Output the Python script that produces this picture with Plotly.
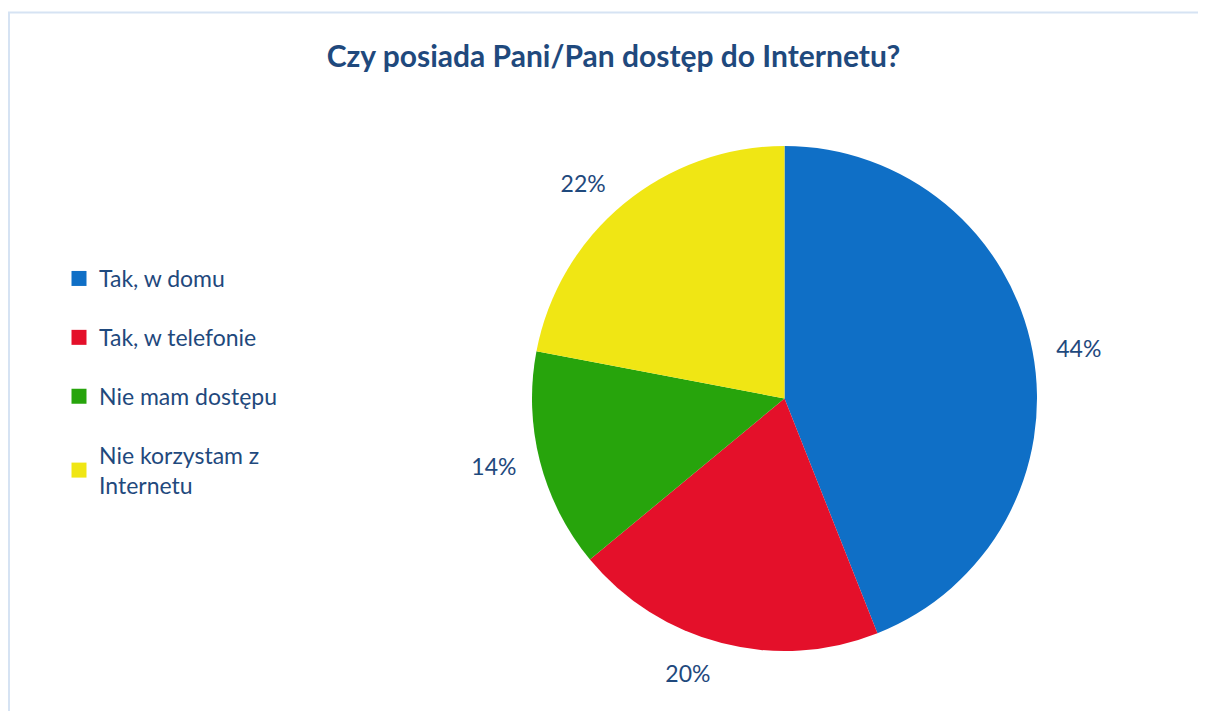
import plotly.graph_objects as go

categories = ["Tak, w domu", "Tak, w telefonie", "Nie mam dostępu", "Nie korzystam z<br>Internetu"]
values = [44, 20, 14, 22]
colors = ["#0f6fc6", "#e4102a", "#27a40c", "#f0e614"]
title_text = "Czy posiada Pani/Pan dostęp do Internetu?"

TEXT = "#1f497d"
FONT = "Lato, 'Open Sans', sans-serif"
W, H = 1198, 703

def dom(x0, x1, top, bottom):
    return dict(x=[x0 / W, x1 / W], y=[1 - bottom / H, 1 - top / H])

fig = go.Figure()
# main pie (slices)
fig.add_trace(go.Pie(
    labels=categories, values=values, sort=False, direction="clockwise", rotation=0,
    marker=dict(colors=colors, line=dict(width=0)),
    textinfo="none", showlegend=False, hoverinfo="label+percent",
    domain=dom(524, 1029, 138, 643),
))
# label ring: same data, transparent, slightly larger so outside labels sit further out
fig.add_trace(go.Pie(
    labels=categories, values=values, sort=False, direction="clockwise", rotation=0,
    marker=dict(colors=["rgba(0,0,0,0)"] * len(values), line=dict(width=0)),
    texttemplate="%{value}%", textposition="outside",
    outsidetextfont=dict(size=23, color=TEXT, family=FONT),
    showlegend=False, hoverinfo="skip",
    domain=dom(507, 1046, 121, 660),
))
for c, col in zip(categories, colors):
    fig.add_trace(go.Scatter(
        x=[None], y=[None], mode="markers", name=c, legendgroup=c,
        marker=dict(symbol="square", size=15, color=col),
    ))

fig.add_shape(type="rect", xref="paper", yref="paper",
              x0=1 / W, x1=1.02, y0=-0.02, y1=1 - 4.5 / H,
              line=dict(color="#d6e3f3", width=2), layer="below")

fig.update_layout(
    width=W, height=H,
    margin=dict(l=0, r=0, t=0, b=0),
    paper_bgcolor="white", plot_bgcolor="white",
    xaxis=dict(visible=False), yaxis=dict(visible=False),
    title=dict(text="<b>" + title_text + "</b>", x=605.5 / W, xanchor="center",
               y=1 - 48 / H, yanchor="middle",
               font=dict(size=30, color=TEXT, family=FONT)),
    legend=dict(x=51 / W, y=1 - 249 / H, xanchor="left", yanchor="top",
                font=dict(size=23, color=TEXT, family=FONT),
                tracegroupgap=26, itemwidth=30),
)
fig.write_html("out.html")
